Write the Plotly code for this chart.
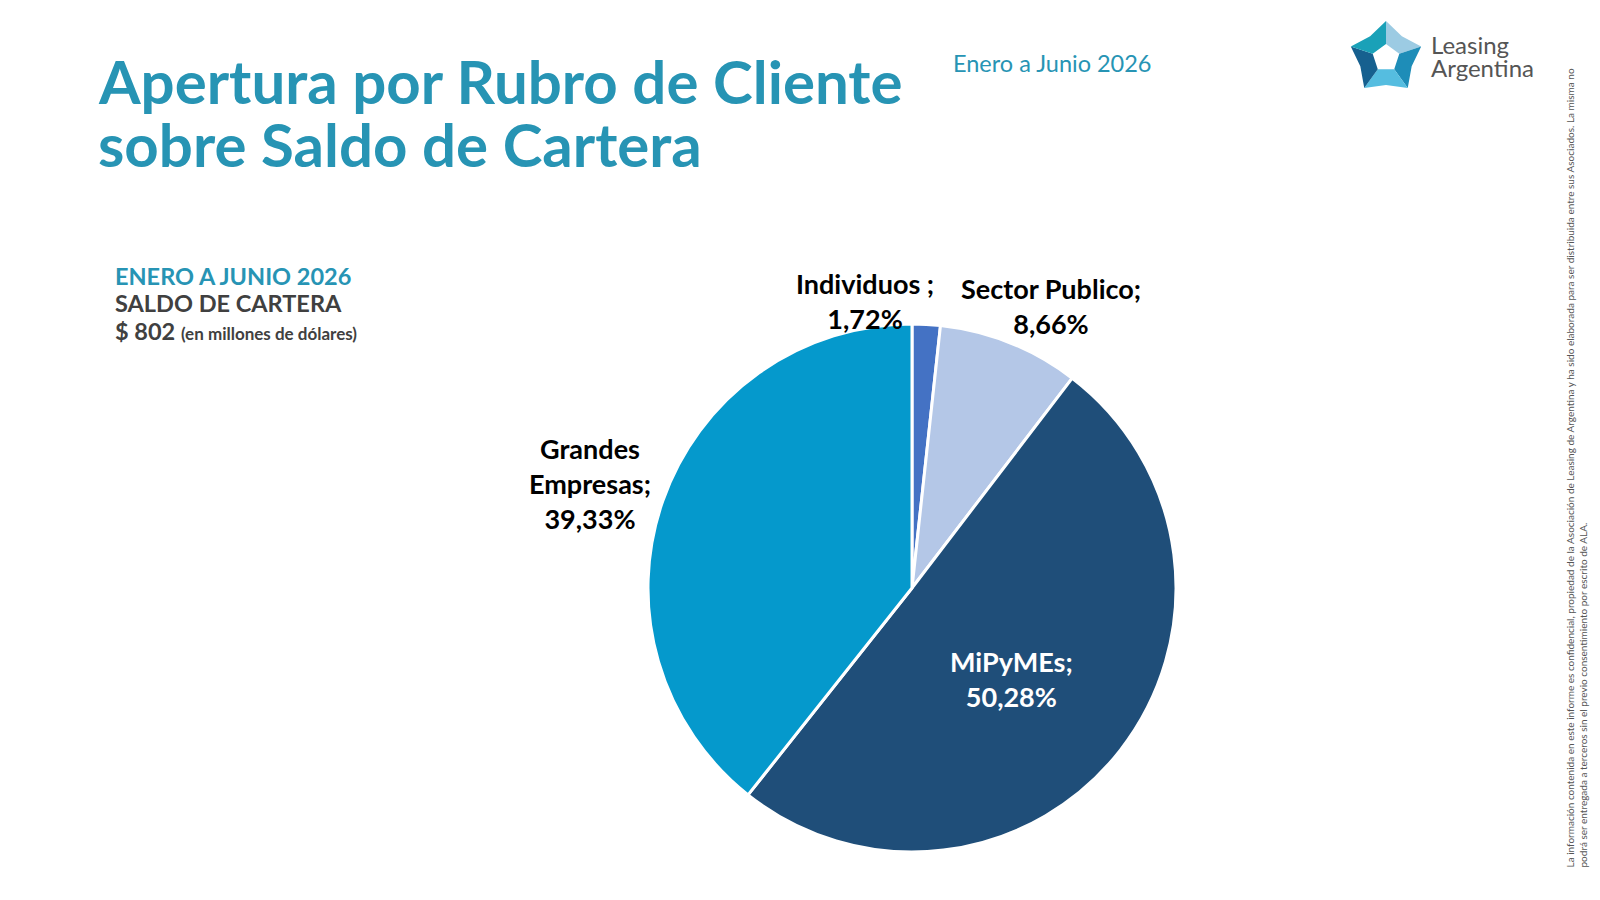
import numpy as np
import plotly.graph_objects as go

# data
categorias = ["Individuos ;", "Sector Publico;", "MiPyMEs;", "Grandes<br>Empresas;"]
porcentajes = [1.72, 8.66, 50.28, 39.33]
colores = ["#4472C4", "#B4C7E7", "#1F4E79", "#0599CC"]
saldo_cartera = 802
periodo = "Enero a Junio 2026"

W, H = 1600, 900
TEAL = "#2794B4"
GRIS = "#404040"


def px(x, y):
    return x / W, 1 - y / H


fig = go.Figure()

cx, cy, r = 904, 580, 264
fig.add_trace(go.Pie(
    labels=categorias,
    values=porcentajes,
    sort=False,
    direction="clockwise",
    rotation=0,
    marker=dict(colors=colores, line=dict(color="white", width=3)),
    textinfo="none",
    hoverinfo="label+percent",
    showlegend=False,
    domain=dict(x=[(cx - r) / W, (cx + r) / W], y=[1 - (cy + r) / H, 1 - (cy - r) / H]),
))

annotations = []

# slice labels (positions of the text boxes only)
label_pos = [(857, 293, "black"), (1043, 298, "black"), (1004, 671, "white"), (582, 475, "black")]
for cat, val, (lx, ly, col) in zip(categorias, porcentajes, label_pos):
    txt = f"{cat}<br>{val:.2f}%".replace(".", ",")
    x, y = px(lx, ly)
    annotations.append(dict(x=x, y=y, xref="paper", yref="paper", text=f"<b>{txt}</b>",
                            showarrow=False, xanchor="center", yanchor="middle",
                            font=dict(family="Lato", size=27, color=col), align="center"))

# title
for i, line in enumerate(["Apertura por Rubro de Cliente", "sobre Saldo de Cartera"]):
    x, y = px(88, 73 + i * 63)
    annotations.append(dict(x=x, y=y, xref="paper", yref="paper", text=f"<b>{line}</b>",
                            showarrow=False, xanchor="left", yanchor="middle",
                            font=dict(family="Lato", size=60, color=TEAL)))

x, y = px(943, 55)
annotations.append(dict(x=x, y=y, xref="paper", yref="paper", text=periodo, showarrow=False,
                        xanchor="left", yanchor="middle", font=dict(family="Lato", size=23.5, color=TEAL)))

# info box
x, y = px(105, 268)
annotations.append(dict(x=x, y=y, xref="paper", yref="paper", text=f"<b>{periodo.upper()}</b>",
                        showarrow=False, xanchor="left", yanchor="middle",
                        font=dict(family="Lato", size=23.5, color=TEAL)))
x, y = px(105, 295)
annotations.append(dict(x=x, y=y, xref="paper", yref="paper", text="<b>SALDO DE CARTERA</b>",
                        showarrow=False, xanchor="left", yanchor="middle",
                        font=dict(family="Lato", size=23.5, color=GRIS)))
x, y = px(105, 323)
annotations.append(dict(x=x, y=y, xref="paper", yref="paper",
                        text=f"<b>$ {saldo_cartera} <span style='font-size:17px'>(en millones de dólares)</span></b>",
                        showarrow=False, xanchor="left", yanchor="middle",
                        font=dict(family="Lato", size=23.5, color=GRIS)))

# logo text
for i, line in enumerate(["Leasing", "Argentina"]):
    x, y = px(1421, 37 + i * 23)
    annotations.append(dict(x=x, y=y, xref="paper", yref="paper", text=line, showarrow=False,
                            xanchor="left", yanchor="middle",
                            font=dict(family="Lato", size=24, color="#555555")))

# disclaimer
x, y = px(1568, 862)
annotations.append(dict(
    x=x, y=y, xref="paper", yref="paper", textangle=-90, showarrow=False,
    xanchor="center", yanchor="bottom", align="left",
    text="La información contenida en este informe es confidencial, propiedad de la Asociación de Leasing de Argentina y ha sido elaborada para ser distribuida entre sus Asociados. La misma no"
         "<br>podrá ser entregada a terceros sin el previo consentimiento por escrito de ALA.",
    font=dict(family="Lato", size=10, color="#555555"),
))

# logo star
shapes = []
lx0, ly0 = 1378, 50
logo_cols = ["#9CCBE3", "#1E8DB8", "#55BDE0", "#16608F", "#1AA1B8"]
for k in range(5):
    a0 = np.deg2rad(-90 + k * 72)
    a1 = np.deg2rad(-90 + (k + 1) * 72)
    am = (a0 + a1) / 2
    pts = [(lx0 + 14 * np.cos(a0), ly0 + 14 * np.sin(a0)),
           (lx0 + 37 * np.cos(a0), ly0 + 37 * np.sin(a0)),
           (lx0 + 27 * np.cos(am), ly0 + 27 * np.sin(am)),
           (lx0 + 37 * np.cos(a1), ly0 + 37 * np.sin(a1)),
           (lx0 + 14 * np.cos(a1), ly0 + 14 * np.sin(a1))]
    path = "M " + " L ".join(f"{px(p[0], p[1])[0]:.5f},{px(p[0], p[1])[1]:.5f}" for p in pts) + " Z"
    shapes.append(dict(type="path", xref="paper", yref="paper", path=path,
                       fillcolor=logo_cols[k], line=dict(width=0)))

fig.update_layout(
    width=W, height=H,
    margin=dict(l=0, r=0, t=0, b=0),
    paper_bgcolor="white", plot_bgcolor="white",
    annotations=annotations,
    shapes=shapes,
)

fig.write_html("out.html")
